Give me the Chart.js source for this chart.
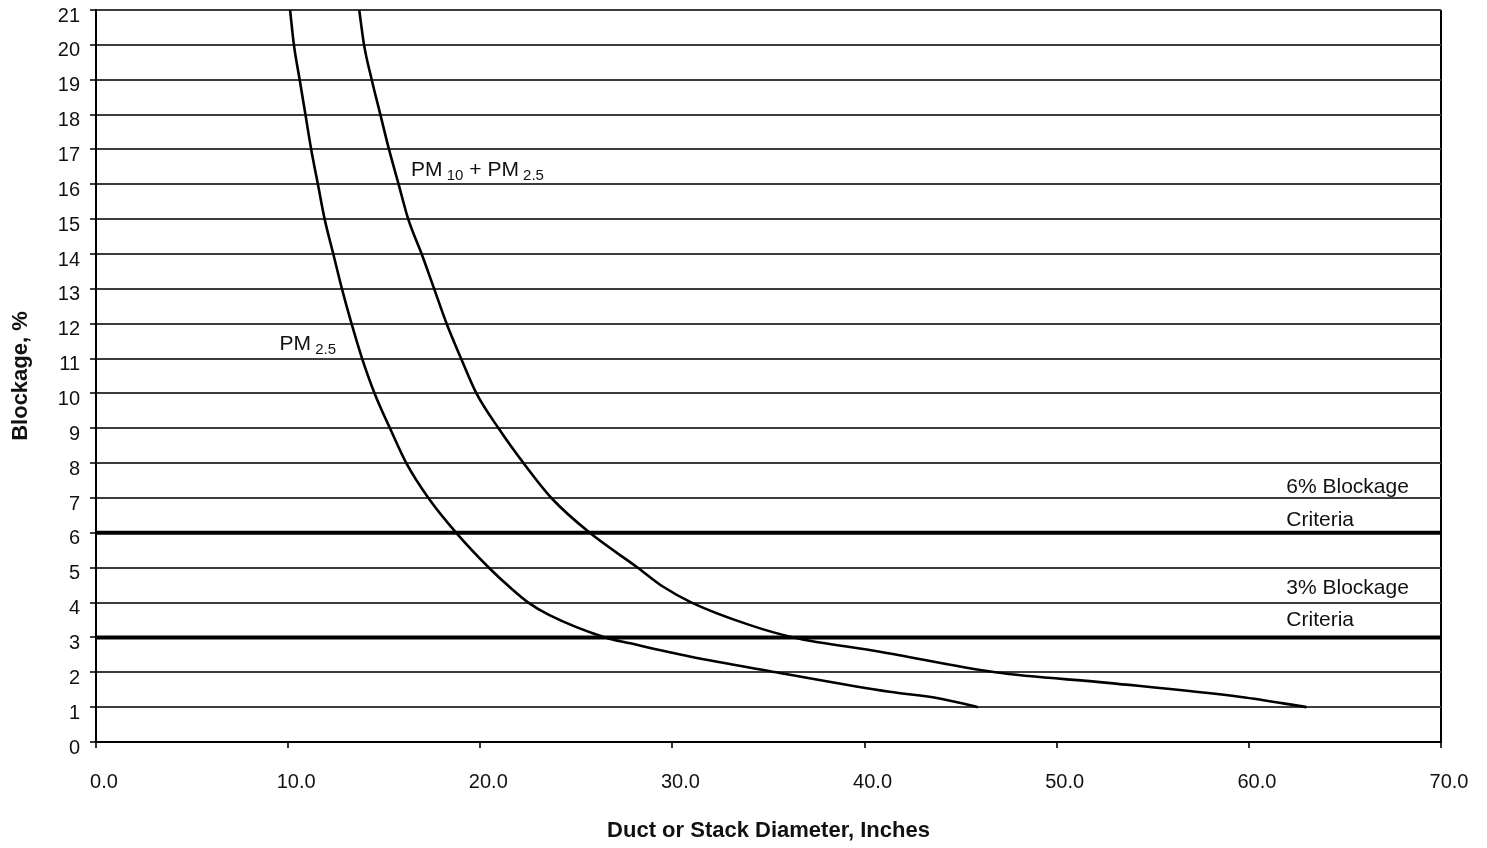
<!DOCTYPE html>
<html>
<head>
<meta charset="utf-8">
<script src="https://cdn.jsdelivr.net/npm/chart.js@4/dist/chart.umd.min.js"></script>
<style>
  html, body { margin: 0; padding: 0; background: #fff; }
  #wrap { width: 1487px; height: 848px; }
</style>
</head>
<body>
<div id="wrap"><canvas id="c" width="1487" height="848"></canvas></div>
<script>
// ---- data ----
const pm25Diameter = [10.1, 10.3, 10.6, 10.9, 11.2, 11.55, 11.9, 12.35, 12.8, 13.3, 13.85, 14.5, 15.3, 16.15, 17.3, 18.75, 20.45, 21.6, 22.5, 23.6, 26.5, 27.8, 30.9, 35.4, 41.3, 43.9, 45.9];
const pm25Blockage = [21, 20, 19, 18, 17, 16, 15, 14, 13, 12, 11, 10, 9, 8, 7, 6, 5, 4.41, 4, 3.64, 3, 2.83, 2.45, 2, 1.44, 1.25, 1];

const pm10Diameter = [13.7, 13.95, 14.35, 14.8, 15.25, 15.75, 16.25, 16.95, 17.6, 18.25, 19.0, 19.8, 20.95, 22.25, 23.7, 25.7, 28.2, 29.5, 31.0, 34.0, 36.3, 40.8, 46.8, 52.8, 59.6, 63.0];
const pm10Blockage = [21, 20, 19, 18, 17, 16, 15, 14, 13, 12, 11, 10, 9, 8, 7, 6, 5, 4.46, 4, 3.36, 3, 2.59, 2, 1.69, 1.29, 1];

const criteriaDiameter = [0, 70];
const criteria6 = [6, 6];
const criteria3 = [3, 3];

const xTickValues = [0, 10, 20, 30, 40, 50, 60, 70];
const yTickValues = [0, 1, 2, 3, 4, 5, 6, 7, 8, 9, 10, 11, 12, 13, 14, 15, 16, 17, 18, 19, 20, 21];

const xTitle = 'Duct or Stack Diameter, Inches';
const yTitle = 'Blockage, %';

// annotation texts (anchored in data coordinates)
const notes = [
  { parts: [['PM', false], [' 10', true], [' + PM', false], [' 2.5', true]], x: 16.4, y: 16.45 },
  { parts: [['PM', false], [' 2.5', true]], x: 9.55, y: 11.45 },
  { parts: [['6% Blockage', false]], x: 61.95, y: 7.37 },
  { parts: [['Criteria', false]], x: 61.95, y: 6.4 },
  { parts: [['3% Blockage', false]], x: 61.95, y: 4.47 },
  { parts: [['Criteria', false]], x: 61.95, y: 3.53 }
];

const toPts = (xs, ys) => xs.map((x, i) => ({ x: x, y: ys[i] }));

const FONT = "'Liberation Sans', Arial, sans-serif";

const notePlugin = {
  id: 'notes',
  afterDatasetsDraw(chart) {
    const ctx = chart.ctx;
    const xs = chart.scales.x, ys = chart.scales.y;
    ctx.save();
    ctx.fillStyle = '#111';
    ctx.textBaseline = 'alphabetic';
    ctx.textAlign = 'left';
    notes.forEach(n => {
      let px = xs.getPixelForValue(n.x);
      const py = ys.getPixelForValue(n.y) + 7.5;
      n.parts.forEach(([t, sub]) => {
        ctx.font = sub ? `15px ${FONT}` : `21px ${FONT}`;
        ctx.fillText(t, px, sub ? py + 4 : py);
        px += ctx.measureText(t).width;
      });
    });
    ctx.restore();
  }
};

const curveStyle = { showLine: true, pointRadius: 0, borderColor: '#000', borderWidth: 2.6, cubicInterpolationMode: 'monotone', fill: false };

new Chart(document.getElementById('c'), {
  type: 'scatter',
  data: {
    datasets: [
      Object.assign({ label: 'PM2.5', data: toPts(pm25Diameter, pm25Blockage) }, curveStyle),
      Object.assign({ label: 'PM10 + PM2.5', data: toPts(pm10Diameter, pm10Blockage) }, curveStyle),
      { label: '6% criteria', data: toPts(criteriaDiameter, criteria6), showLine: true, pointRadius: 0, borderColor: '#000', borderWidth: 4, tension: 0 },
      { label: '3% criteria', data: toPts(criteriaDiameter, criteria3), showLine: true, pointRadius: 0, borderColor: '#000', borderWidth: 4, tension: 0 }
    ]
  },
  options: {
    responsive: false,
    animation: false,
    devicePixelRatio: 1,
    layout: { padding: { left: 0, right: 46, top: 0, bottom: 0 } },
    plugins: { legend: { display: false }, tooltip: { enabled: false } },
    scales: {
      x: {
        type: 'linear',
        min: 0, max: 70,
        afterBuildTicks(s) { s.ticks = xTickValues.map(v => ({ value: v })); },
        afterFit(s) { s.height = 106; },
        ticks: {
          color: '#111',
          padding: 24,
          labelOffset: 8,
          font: { family: FONT, size: 20, lineHeight: 1 },
          callback: v => Number(v).toFixed(1),
          maxRotation: 0
        },
        grid: {
          drawOnChartArea: true,
          color: c => (c.tick && c.tick.value === 70) ? '#000' : 'rgba(0,0,0,0)',
          lineWidth: 2,
          tickColor: '#333',
          tickLength: 6,
          tickWidth: 2
        },
        border: { display: true, color: '#000', width: 2 },
        title: {
          display: true,
          text: xTitle,
          color: '#111',
          font: { family: FONT, size: 22, weight: 'bold' },
          padding: { top: 0, bottom: 4 }
        }
      },
      y: {
        type: 'linear',
        min: 0, max: 21,
        afterBuildTicks(s) { s.ticks = yTickValues.map(v => ({ value: v })); },
        afterFit(s) { s.width = 96; s.paddingTop = 10; s.paddingBottom = 0; },
        ticks: {
          color: '#111',
          padding: 10,
          labelOffset: 6,
          font: { family: FONT, size: 20, lineHeight: 1 }
        },
        grid: {
          color: '#3c3c3c',
          lineWidth: 2,
          tickColor: '#3c3c3c',
          tickLength: 6
        },
        border: { display: true, color: '#000', width: 2 },
        title: {
          display: true,
          text: yTitle,
          color: '#111',
          font: { family: FONT, size: 22, weight: 'bold' },
          padding: { top: 8, bottom: 0 }
        }
      }
    }
  },
  plugins: [notePlugin]
});
</script>
</body>
</html>
